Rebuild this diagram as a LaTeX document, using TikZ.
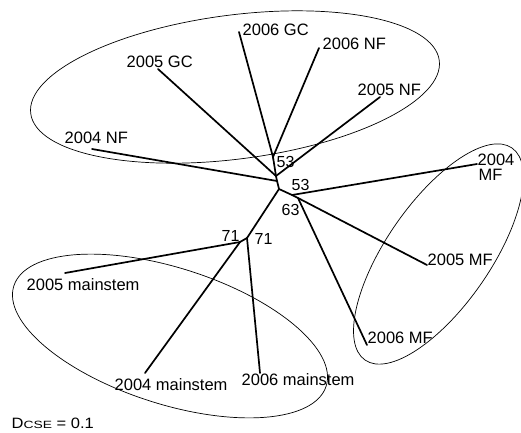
\documentclass[tikz,border=0pt]{standalone}
\usepackage{fontspec}
\setmainfont{Liberation Sans}
\begin{document}
\begin{tikzpicture}[x=1pt,y=-1pt,
  edge/.style={line width=1.7pt, line cap=round},
  ring/.style={line width=0.7pt},
  lbl/.style={font=\fontsize{16.5}{16.5}\selectfont, inner sep=0pt, anchor=base west},
  blbl/.style={font=\fontsize{16}{16}\selectfont, inner sep=0pt, anchor=base west}]
\useasboundingbox (0,0) rectangle (521,432);
% internal nodes
\coordinate (A) at (273,157);
\coordinate (B) at (276,176);
\coordinate (C) at (277,181);
\coordinate (D) at (279,189);
\coordinate (E) at (292,195);
\coordinate (F) at (298,198);
\coordinate (G) at (247,238);
\coordinate (H) at (240,242);
% leaves
\coordinate (gc06) at (239,32);
\coordinate (nf06) at (319,48);
\coordinate (gc05) at (158,69);
\coordinate (nf05) at (380,97);
\coordinate (nf04) at (92,149);
\coordinate (mf04) at (477,164);
\coordinate (mf05) at (427,265);
\coordinate (mf06) at (367,345);
\coordinate (ms05) at (65,273);
\coordinate (ms04) at (145,373);
\coordinate (ms06) at (260,373);
% ellipses
\draw[ring, rotate around={7.4:(235,87)}] (235,87) ellipse [x radius=206pt, y radius=72pt];
\draw[ring, rotate around={55.3:(438.5,254)}] (438.5,254) ellipse [x radius=129pt, y radius=52pt];
\draw[ring, rotate around={-17.8:(170,336)}] (170,336) ellipse [x radius=164pt, y radius=68pt];
% tree
\draw[edge] (gc06) -- (A) -- (nf06);
\draw[edge] (A) -- (B);
\draw[edge] (gc05) -- (B) -- (nf05);
\draw[edge] (B) -- (C) -- (nf04);
\draw[edge] (C) -- (D) -- (E) -- (F);
\draw[edge] (E) -- (mf04);
\draw[edge] (F) -- (mf05);
\draw[edge] (F) -- (mf06);
\draw[edge] (D) -- (G) -- (H);
\draw[edge] (G) -- (ms06);
\draw[edge] (H) -- (ms05);
\draw[edge] (H) -- (ms04);
% leaf labels
\node[lbl] (tgc06) at (242.5,35) {2006 GC};
\node[lbl] (tnf06) at (322.5,49) {2006 NF};
\node[lbl] (tgc05) at (126.5,67) {2005 GC};
\node[lbl] (tnf05) at (357.5,95) {2005 NF};
\node[lbl] (tnf04) at (64.5,143.5) {2004 NF};
\node[lbl] (tmf04a) at (477.5,165) {2004};
\node[lbl] (tmf04b) at (478.5,180.5) {MF};
\node[lbl] (tmf05) at (427.5,265) {2005 MF};
\node[lbl] (tmf06) at (367.5,343) {2006 MF};
\node[lbl] (tms05) at (26.5,290) {2005 mainstem};
\node[lbl] (tms04) at (114.5,390) {2004 mainstem};
\node[lbl] (tms06) at (241.5,385) {2006 mainstem};
% bootstrap labels
\node[blbl] (bA) at (276.5,167) {53};
\node[blbl] (bE) at (291.5,190) {53};
\node[blbl] (bF) at (281.5,215) {63};
\node[blbl] (bH) at (221.5,241.5) {71};
\node[blbl] (bG) at (254.5,244) {71};
% scale
\node[inner sep=0pt, anchor=base west] (scale) at (11.5,428)
  {\scalebox{1.1}[1]{\fontsize{15}{15}\selectfont D\scalebox{1.2}[1]{\fontsize{10.5}{10.5}\selectfont CSE} = 0.1}};
\end{tikzpicture}
\end{document}
